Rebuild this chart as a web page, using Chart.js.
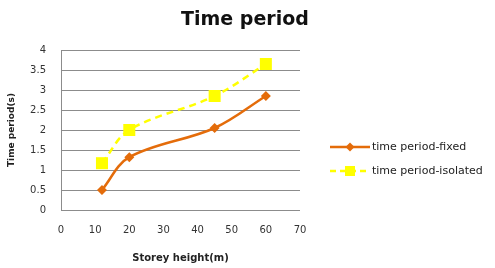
<!DOCTYPE html>
<html>
<head>
<meta charset="utf-8">
<script src="https://cdn.jsdelivr.net/npm/chart.js@4/dist/chart.umd.min.js"></script>
<style>
  html, body { margin: 0; padding: 0; background: #fff; }
  #wrap { width: 495px; height: 268px; }
</style>
</head>
<body>
<div id="wrap"><canvas id="periodChart" width="495" height="268"></canvas></div>
<script>
// dane
const storeyHeight = [12, 20, 45, 60];
const periodFixed = [0.5, 1.32, 2.05, 2.85];
const periodIsolated = [1.17, 2.0, 2.85, 3.65];
const seriesNames = ["time period-fixed", "time period-isolated"];
const chartTitle = "Time period";

const ORANGE = "#E46C0A";
const YELLOW = "#FFFF00";
const FONT = "'DejaVu Sans', Verdana, sans-serif";

const toPoints = ys => storeyHeight.map((x, i) => ({ x, y: ys[i] }));

/* ---- tytuł + legenda rysowane ręcznie ---- */
const extras = {
    id: "extras",
    afterDraw(chart) {
        const ctx = chart.ctx;
        ctx.save();

        ctx.fillStyle = "#111";
        ctx.font = "bold 19px " + FONT;
        ctx.textAlign = "center";
        ctx.textBaseline = "middle";
        ctx.fillText(chartTitle, 245, 20);

        const items = [
            { y: 147, color: ORANGE, dash: [], mark: "diamond" },
            { y: 171, color: YELLOW, dash: [6, 4], mark: "square" }
        ];
        items.forEach((it, i) => {
            ctx.strokeStyle = it.color;
            ctx.lineWidth = 2.5;
            ctx.setLineDash(it.dash);
            ctx.beginPath();
            ctx.moveTo(330, it.y);
            ctx.lineTo(370, it.y);
            ctx.stroke();
            ctx.setLineDash([]);
            ctx.fillStyle = it.color;
            ctx.beginPath();
            if (it.mark === "diamond") {
                ctx.moveTo(350, it.y - 4.5);
                ctx.lineTo(354.5, it.y);
                ctx.lineTo(350, it.y + 4.5);
                ctx.lineTo(345.5, it.y);
                ctx.closePath();
            } else {
                ctx.rect(345, it.y - 5, 10, 10);
            }
            ctx.fill();
            ctx.fillStyle = "#222";
            ctx.font = "11px " + FONT;
            ctx.textAlign = "left";
            ctx.textBaseline = "middle";
            ctx.fillText(seriesNames[i], 372, it.y);
        });
        ctx.restore();
    }
};

new Chart(document.getElementById("periodChart"), {
    type: "scatter",
    data: {
        datasets: [
            {
                label: seriesNames[0],
                data: toPoints(periodFixed),
                showLine: true,
                borderColor: ORANGE,
                backgroundColor: ORANGE,
                borderWidth: 2.5,
                tension: 0.35,
                pointStyle: "rectRot",
                pointRadius: 5,
                pointBorderWidth: 0
            },
            {
                label: seriesNames[1],
                data: toPoints(periodIsolated),
                showLine: true,
                borderColor: YELLOW,
                backgroundColor: YELLOW,
                borderWidth: 2.5,
                borderDash: [7, 5],
                tension: 0.35,
                pointStyle: "rect",
                pointRadius: 8.5,
                pointBorderWidth: 0
            }
        ]
    },
    options: {
        responsive: false,
        animation: false,
        layout: { padding: { left: 0, right: 195, top: 50, bottom: 0 } },
        scales: {
            x: {
                type: "linear",
                min: 0, max: 70,
                ticks: { stepSize: 10, padding: 14, color: "#333", font: { family: FONT, size: 10 } },
                grid: { display: false, drawTicks: false },
                border: { display: false },
                title: { display: true, text: "Storey height(m)", color: "#222",
                         font: { family: FONT, size: 10, weight: "bold" }, padding: { top: 4, bottom: 4 } },
                afterFit: s => { s.height = 58; }
            },
            y: {
                min: 0, max: 4,
                ticks: { stepSize: 0.5, padding: 15, color: "#333", font: { family: FONT, size: 10 },
                         callback: v => String(v) },
                grid: { color: "#8c8c8c", lineWidth: 1, drawTicks: false },
                border: { display: true, color: "#8c8c8c" },
                title: { display: true, text: "Time period(s)", color: "#222",
                         font: { family: FONT, size: 9, weight: "bold" }, padding: { top: 6, bottom: 0 } },
                afterFit: s => { s.width = 61; }
            }
        },
        plugins: {
            legend: { display: false },
            tooltip: { enabled: false },
            title: { display: false }
        }
    },
    plugins: [extras]
});
</script>
</body>
</html>
